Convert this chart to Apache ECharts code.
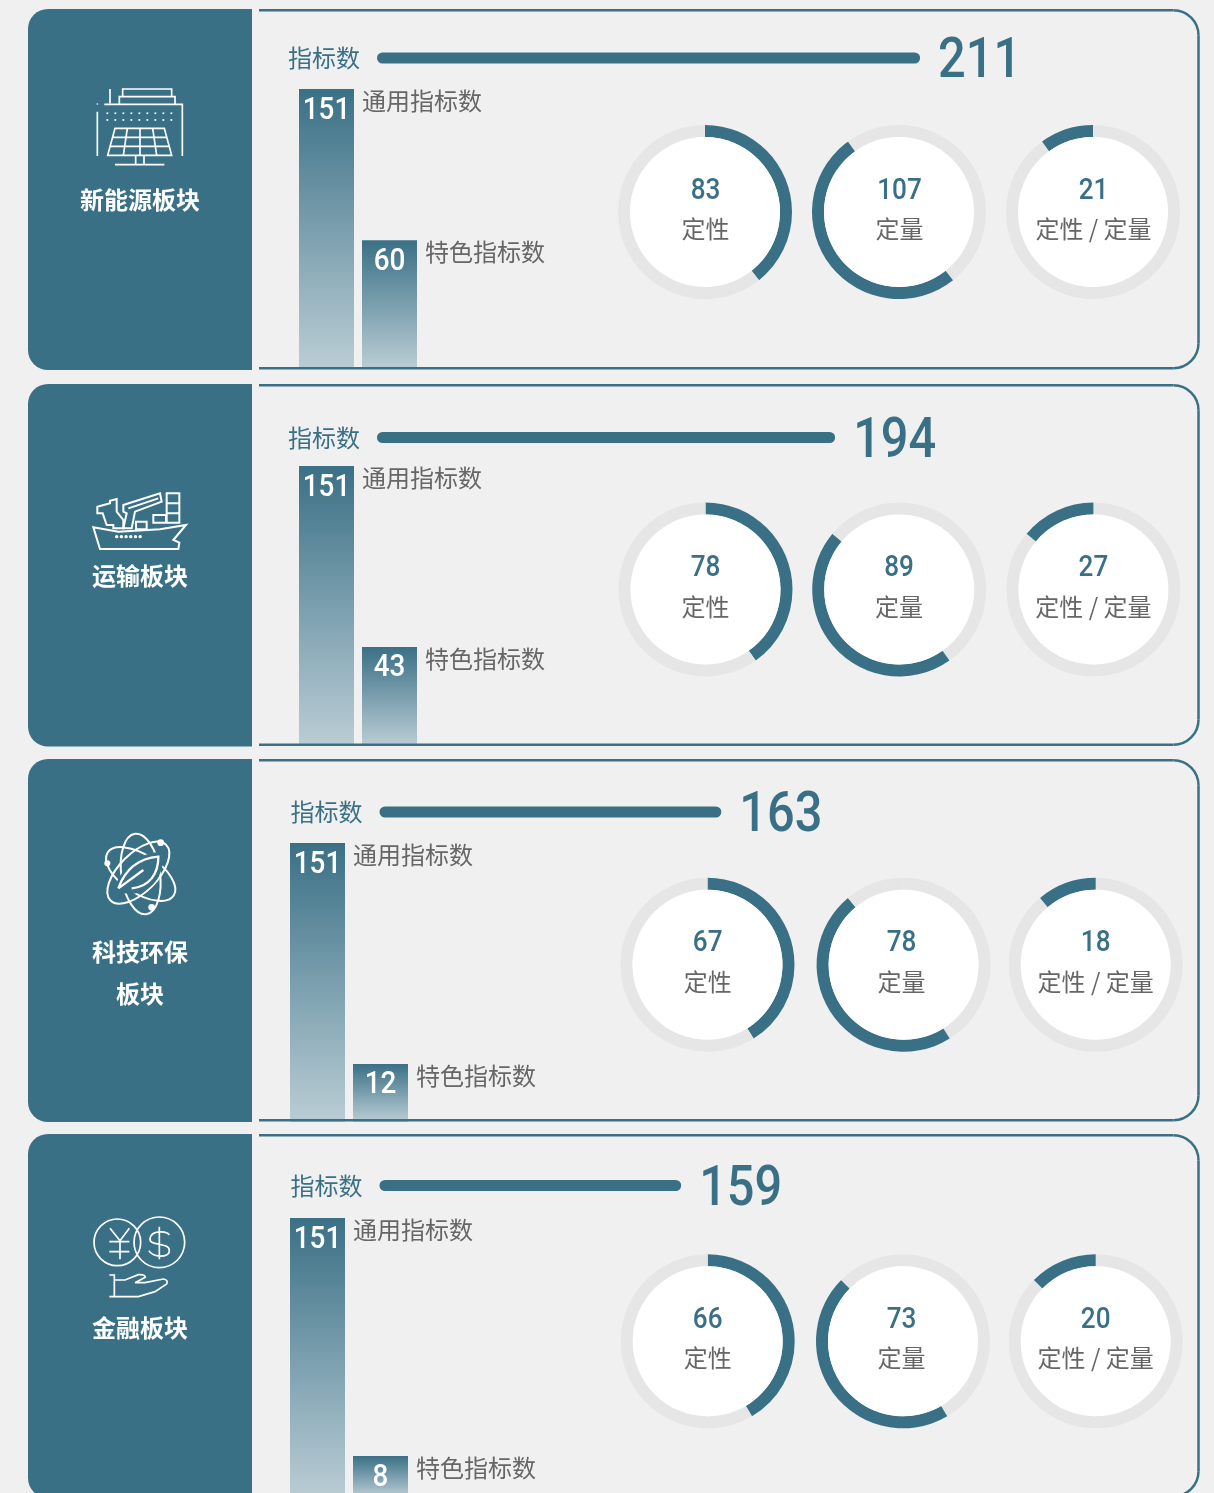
<!DOCTYPE html>
<html>
<head>
<meta charset="utf-8">
<style>
html, body { margin: 0; padding: 0; background: #f0f0f0; overflow: hidden; }
#main { width: 1214px; height: 1493px; }
</style>
<script src="https://cdn.jsdelivr.net/npm/echarts@6/dist/echarts.min.js"></script>
</head>
<body>
<div id="main"></div>
<script>
// data
var boards = ['新能源板块', '运输板块', '科技环保\n板块', '金融板块']
var totals = [211, 194, 163, 159]
var commonCounts = [151, 151, 151, 151]
var specialCounts = [60, 43, 12, 8]
var qualitative = [83, 78, 67, 66]
var quantitative = [107, 89, 78, 73]
var mixed = [21, 27, 18, 20]
var barNames = ['通用指标数', '特色指标数']
var gaugeNames = ['定性', '定量', '定性 / 定量']
var totalName = '指标数'

// the source bars are not drawn from zero, so each panel keeps its own axis floor
var barFloors = [-17, -15.5, -24.5, -16.6]
var totalFloors = [94.7, 95.9, 89.8, 94.4]

var mainColor = '#3a7086'
var trackColor = '#e6e6e6'
var grayText = '#666666'
var numFont = 'Roboto, sans-serif'
var cjkFont = '"Noto Sans CJK SC", sans-serif'
var numSqueeze = 0.87

// layout of each panel
var panelTop = [9, 384, 759, 1134]
var panelBottom = [370, 746.5, 1122, 1498]
var totalLeft = [377, 377, 379.5, 379.5]
var totalY = [58, 437.5, 812, 1185.5]
var columnLeft = [295, 295, 286, 286]
var columnTop = [89, 466, 843, 1218]
var gaugeY = [212, 589.5, 964.8, 1341.3]
var gaugeX = [
  [705, 899, 1093],
  [705.5, 899.2, 1093.4],
  [707.5, 903.6, 1095.7],
  [707.7, 903, 1095.7],
]
var gaugeTextX = [
  [705.5, 899.5, 1093.5],
  [705.5, 899, 1093.4],
  [707.7, 901.6, 1095.7],
  [707.7, 901.6, 1095.7],
]
var titleY = [200, 576, 952, 1328]
var gaugeR = 87
var gaugeInner = 75

// icons, coordinates in each icon's own viewBox
var solarIcon = {
  box: [70, 75, 140, 100],
  view: '0 0 420 300',
  sw: 5,
  body:
    '<path d="M120 42V85M158 65V42H305V65M148 88V65H315V88M103 88H337V243M82 110V243"/>' +
    '<path d="M135 160H283L305 241H113Z"/><path d="M127 187H291M120 214H298M172 160L160 241M210 160V241M248 160L260 241"/>' +
    '<path d="M197 241V268M222 241V268M135 269H283"/>' +
    '<path stroke-linecap="round" stroke-width="6" stroke-dasharray="0.1 23.9" d="M112 115H310M112 135H310"/>' +
    '<circle cx="82" cy="87" r="2.5" fill="#fff" stroke="none"/>',
}
var shipIcon = {
  box: [60, 470, 160, 130],
  view: '0 0 480 390',
  sw: 6,
  body:
    '<path d="M100 172L175 185L300 178L378 165L340 210L358 218L355 237H120Z"/>' +
    '<path d="M140 165L128 130H112V110L150 100V92L170 87V125L190 150V175H160V165Z"/>' +
    '<path d="M190 105L300 70L305 95L225 125L215 175H190L200 130L190 125ZM205 115L295 85"/>' +
    '<path d="M320 70H358V158H320ZM320 100H358M320 130H358M280 135H318V158H280ZM228 155H260V178H228Z"/>' +
    '<path stroke-width="10" stroke-linecap="round" stroke-dasharray="0.1 14" d="M170 200H252"/>',
}
var atomIcon = {
  box: [70, 820, 140, 110],
  view: '0 0 420 330',
  sw: 6,
  body:
    '<ellipse cx="212" cy="162" rx="118" ry="58" transform="rotate(33 212 162)"/>' +
    '<ellipse cx="212" cy="162" rx="122" ry="58" transform="rotate(82 212 162)"/>' +
    '<ellipse cx="205" cy="158" rx="118" ry="58" transform="rotate(-45 205 158)"/>' +
    '<path fill="#3a7086" stroke="none" d="M130 215C150 140 210 95 280 95C285 165 245 220 180 222Z"/>' +
    '<path stroke-width="7" d="M145 205C165 150 205 115 265 110C265 160 240 200 185 205M145 205L220 150"/>' +
    '<g fill="#fff" stroke="none"><circle cx="112" cy="130" r="9"/><circle cx="272" cy="68" r="10"/><circle cx="245" cy="262" r="10"/></g>',
}
var moneyIcon = {
  box: [70, 1200, 140, 110],
  view: '0 0 420 330',
  sw: 5,
  body:
    '<circle cx="142" cy="127" r="70"/><circle cx="268" cy="127" r="76"/>' +
    '<path d="M120 85L150 122L178 85M150 122V178M118 125H178M118 155H178"/>' +
    '<path d="M298 105C290 92 245 90 240 115C236 140 298 125 298 152C298 176 245 172 237 152M268 80V178"/>' +
    '<path d="M118 225H133V290H118M133 240H165L205 224Q225 222 226 232L195 248H225L280 237Q296 240 290 252L255 275L205 290H133"/>',
}
var icons = [solarIcon, shipIcon, atomIcon, moneyIcon]

function iconImage(icon) {
  var svg =
    '<svg xmlns="http://www.w3.org/2000/svg" width="' + icon.box[2] + '" height="' + icon.box[3] +
    '" viewBox="' + icon.view + '"><g fill="none" stroke="#fff" stroke-width="' + icon.sw + '">' +
    icon.body + '</g></svg>'
  return {
    type: 'image',
    silent: true,
    style: {
      image: 'data:image/svg+xml;charset=utf-8,' + encodeURIComponent(svg),
      x: icon.box[0],
      y: icon.box[1],
      width: icon.box[2],
      height: icon.box[3],
    },
  }
}

var frameStyle = { stroke: mainColor, lineWidth: 2.5, fill: 'none' }
var frameR = 25
var frameRight = 1198.5

function frameLine(x1, y1, x2, y2) {
  return { type: 'line', silent: true, z: 10, shape: { x1: x1, y1: y1, x2: x2, y2: y2 }, style: frameStyle }
}
function frameArc(cy, start, end) {
  return {
    type: 'arc',
    silent: true,
    z: 10,
    shape: { cx: frameRight - frameR, cy: cy, r: frameR, startAngle: start, endAngle: end },
    style: frameStyle,
  }
}

// digits in the source are a narrow face, so Roboto gets squeezed a little
function numberText(text, x, y, size, color, align) {
  return {
    type: 'text',
    silent: true,
    x: x,
    y: y,
    scaleX: numSqueeze,
    z: 10,
    style: {
      text: String(text),
      x: 0,
      y: 0,
      align: align,
      verticalAlign: 'middle',
      fill: color,
      font: '500 ' + size + 'px ' + numFont,
    },
  }
}

function renderTotalNumber(params, api) {
  var end = api.coord([api.value(0), api.value(1)])
  return numberText(api.value(0), end[0] + 18, end[1] + 5, 56, mainColor, 'left')
}

function columnRenderer(floor) {
  return function (params, api) {
    var x = api.value(0)
    var v = api.value(1)
    var top = api.coord([x, v])
    var base = api.coord([x, floor])
    var barW = 55
    var left = top[0] - barW / 2
    return {
      type: 'group',
      children: [
        {
          type: 'rect',
          shape: { x: left, y: top[1], width: barW, height: base[1] - top[1] },
          style: {
            fill: new echarts.graphic.LinearGradient(0, 0, 0, 1, [
              { offset: 0, color: mainColor },
              { offset: 1, color: '#bacdd5' },
            ]),
          },
        },
        numberText(v, top[0], top[1] + 21.5, 32, '#ffffff', 'center'),
        {
          type: 'text',
          style: {
            text: barNames[x],
            x: left + 63,
            y: top[1],
            fill: grayText,
            font: '24px ' + cjkFont,
            lineHeight: 24,
          },
        },
      ],
    }
  }
}

var graphics = []
var grids = []
var xAxes = []
var yAxes = []
var series = []

function addPanel(i) {
  var top = panelTop[i]
  var bottom = panelBottom[i]
  var t = top + 1.2
  var b = bottom - 1.8
  var arcX = frameRight - frameR
  graphics.push({
    type: 'rect',
    silent: true,
    shape: { x: 28, y: top, width: 224, height: bottom - top, r: [20, 0, 0, 20] },
    style: { fill: mainColor },
  })
  graphics.push(frameLine(259, t, arcX, t))
  graphics.push(frameLine(259, b, arcX, b))
  graphics.push(frameLine(frameRight, t + frameR, frameRight, b - frameR))
  graphics.push(frameArc(t + frameR, -Math.PI / 2, 0))
  graphics.push(frameArc(b - frameR, 0, Math.PI / 2))
  graphics.push(iconImage(icons[i]))
  graphics.push({
    type: 'text',
    silent: true,
    style: {
      text: boards[i],
      x: 140,
      y: i == 2 ? titleY[i] - 21 : titleY[i],
      align: 'center',
      verticalAlign: i == 2 ? 'top' : 'middle',
      fill: '#ffffff',
      font: 'bold 24px ' + cjkFont,
      lineHeight: 42,
    },
  })

  // total bar
  var g = grids.length
  grids.push({ left: totalLeft[i], top: totalY[i] - 12, width: 640, height: 24, outerBoundsMode: 'none' })
  xAxes.push({
    gridIndex: g,
    type: 'value',
    min: totalFloors[i],
    max: totalFloors[i] + 640 / 4.67,
    show: false,
  })
  yAxes.push({
    gridIndex: g,
    type: 'category',
    data: [totalName],
    axisLine: { show: false },
    axisTick: { show: false },
    axisLabel: { margin: 17, color: mainColor, fontSize: 24, fontFamily: cjkFont, padding: [0, 0, 2, 0] },
  })
  series.push({
    type: 'bar',
    xAxisIndex: g,
    yAxisIndex: g,
    silent: true,
    barWidth: 11,
    itemStyle: { color: mainColor, borderRadius: 5.5 },
    data: [totals[i]],
  })
  series.push({
    type: 'custom',
    xAxisIndex: g,
    yAxisIndex: g,
    silent: true,
    renderItem: renderTotalNumber,
    data: [[totals[i], 0]],
  })

  // two columns
  g = grids.length
  grids.push({ left: columnLeft[i], top: columnTop[i], width: 126, height: 279, outerBoundsMode: 'none' })
  xAxes.push({ gridIndex: g, type: 'category', data: barNames, show: false })
  yAxes.push({ gridIndex: g, type: 'value', min: barFloors[i], max: 151, show: false })
  series.push({
    type: 'custom',
    xAxisIndex: g,
    yAxisIndex: g,
    silent: true,
    renderItem: columnRenderer(barFloors[i]),
    data: [[0, commonCounts[i]], [1, specialCounts[i]]],
  })

  // three rings, one after the other round the same total
  var parts = [qualitative[i], quantitative[i], mixed[i]]
  var before = 0
  parts.forEach(function (v, k) {
    var center = [gaugeX[i][k], gaugeY[i]]
    series.push({
      type: 'pie',
      center: center,
      radius: [gaugeInner, gaugeR],
      silent: true,
      label: { show: false },
      labelLine: { show: false },
      data: [
        { value: before, itemStyle: { color: trackColor } },
        { value: v, itemStyle: { color: mainColor } },
        { value: totals[i] - before - v, itemStyle: { color: trackColor } },
      ],
    })
    series.push({
      type: 'pie',
      center: center,
      radius: [0, gaugeInner],
      silent: true,
      label: {
        show: true,
        position: 'center',
        offset: [gaugeTextX[i][k] - gaugeX[i][k], 17],
        formatter: gaugeNames[k],
        color: grayText,
        fontSize: 24,
        fontFamily: cjkFont,
      },
      labelLine: { show: false },
      itemStyle: { color: '#ffffff' },
      data: [{ value: 1 }],
    })
    graphics.push(numberText(v, gaugeTextX[i][k], gaugeY[i] - 21, 30, mainColor, 'center'))
    before += v
  })
}

for (var i = 0; i < boards.length; i++) {
  addPanel(i)
}

var option = {
  animation: false,
  backgroundColor: '#f0f0f0',
  grid: grids,
  xAxis: xAxes,
  yAxis: yAxes,
  graphic: graphics,
  series: series,
}
var myChart = echarts.init(document.getElementById('main'))
myChart.setOption(option)
</script>
</body>
</html>
